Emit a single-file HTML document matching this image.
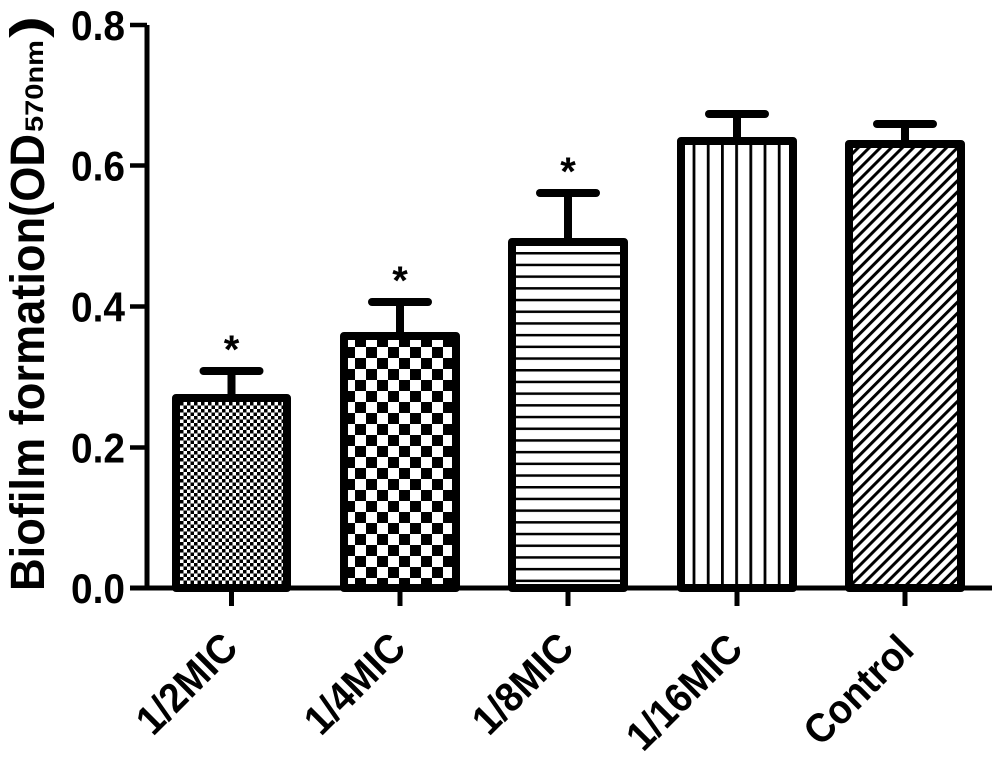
<!DOCTYPE html>
<html>
<head>
<meta charset="utf-8">
<style>
html,body{margin:0;padding:0;background:#fff;}
svg{display:block;}
text{font-family:"Liberation Sans",Arial,sans-serif;font-weight:bold;fill:#000;}
</style>
</head>
<body>
<svg width="1000" height="759" viewBox="0 0 1000 759" xmlns="http://www.w3.org/2000/svg">
<defs>
  <pattern id="p1" patternUnits="userSpaceOnUse" x="180" y="402" width="7" height="7">
    <rect width="7" height="7" fill="#fff"/>
    <rect width="3.5" height="3.5" fill="#000"/>
    <rect x="3.5" y="3.5" width="3.5" height="3.5" fill="#000"/>
  </pattern>
  <pattern id="p2" patternUnits="userSpaceOnUse" x="344" y="336" width="22" height="22">
    <rect width="22" height="22" fill="#fff"/>
    <rect x="11" y="0" width="11" height="11" fill="#000"/>
    <rect x="0" y="11" width="11" height="11" fill="#000"/>
  </pattern>
  <pattern id="p3" patternUnits="userSpaceOnUse" x="0" y="252" width="10" height="11.7">
    <rect width="10" height="11.7" fill="#fff"/>
    <rect y="0" width="10" height="2.5" fill="#000"/>
  </pattern>
  <pattern id="p4" patternUnits="userSpaceOnUse" x="692.6" y="0" width="14.2" height="10">
    <rect width="14.2" height="10" fill="#fff"/>
    <rect x="0" width="2.8" height="10" fill="#000"/>
  </pattern>
  <pattern id="p5" patternUnits="userSpaceOnUse" x="0" y="0" width="7.8" height="10" patternTransform="rotate(45)">
    <rect width="7.8" height="10" fill="#fff"/>
    <rect x="0" width="3" height="10" fill="#000"/>
  </pattern>
</defs>

<!-- Y axis -->
<line x1="147" y1="25" x2="147" y2="590" stroke="#000" stroke-width="5"/>
<g stroke="#000" stroke-width="4.5">
  <line x1="130" y1="25" x2="147" y2="25"/>
  <line x1="130" y1="165.5" x2="147" y2="165.5"/>
  <line x1="130" y1="306.5" x2="147" y2="306.5"/>
  <line x1="130" y1="447.5" x2="147" y2="447.5"/>
  <line x1="130" y1="588" x2="147" y2="588"/>
</g>
<g font-size="42" text-anchor="end">
  <text x="125" y="40" textLength="54" lengthAdjust="spacingAndGlyphs">0.8</text>
  <text x="125" y="180.5" textLength="54" lengthAdjust="spacingAndGlyphs">0.6</text>
  <text x="125" y="321.5" textLength="54" lengthAdjust="spacingAndGlyphs">0.4</text>
  <text x="125" y="462.5" textLength="54" lengthAdjust="spacingAndGlyphs">0.2</text>
  <text x="125" y="603" textLength="54" lengthAdjust="spacingAndGlyphs">0.0</text>
</g>

<!-- Y axis title -->
<g transform="translate(44,591) rotate(-90)">
  <text x="0" y="0" font-size="48" textLength="457" lengthAdjust="spacingAndGlyphs">Biofilm formation(OD</text>
  <text x="459" y="-1" font-size="25" textLength="92" lengthAdjust="spacingAndGlyphs">570nm</text>
  <text x="553" y="0" font-size="48" textLength="22" lengthAdjust="spacingAndGlyphs">)</text>
</g>

<!-- Bars -->
<g stroke="#000" stroke-width="8" stroke-linejoin="round">
  <rect x="176" y="398" width="111" height="190" fill="url(#p1)"/>
  <rect x="344" y="336" width="112" height="252" fill="url(#p2)"/>
  <rect x="512" y="242" width="112" height="346" fill="url(#p3)"/>
  <rect x="681" y="141" width="112" height="447" fill="url(#p4)"/>
  <rect x="849" y="144" width="112" height="444" fill="url(#p5)"/>
</g>

<!-- Error bars -->
<g stroke="#000" stroke-width="8" stroke-linecap="round">
  <line x1="231.5" y1="371" x2="231.5" y2="396"/>
  <line x1="203.5" y1="371" x2="259.5" y2="371"/>
  <line x1="400" y1="302" x2="400" y2="334"/>
  <line x1="372" y1="302" x2="428" y2="302"/>
  <line x1="568" y1="193" x2="568" y2="240"/>
  <line x1="540" y1="193" x2="596" y2="193"/>
  <line x1="737" y1="114" x2="737" y2="139"/>
  <line x1="709" y1="114" x2="765" y2="114"/>
  <line x1="905" y1="124" x2="905" y2="142"/>
  <line x1="877" y1="124" x2="933" y2="124"/>
</g>

<!-- Stars -->
<g font-size="40" text-anchor="middle">
  <text x="231.5" y="363">*</text>
  <text x="400" y="294">*</text>
  <text x="568" y="185">*</text>
</g>

<!-- X axis -->
<line x1="130" y1="588" x2="992" y2="588" stroke="#000" stroke-width="5"/>
<g stroke="#000" stroke-width="5">
  <line x1="231.5" y1="588" x2="231.5" y2="606"/>
  <line x1="400" y1="588" x2="400" y2="606"/>
  <line x1="568" y1="588" x2="568" y2="606"/>
  <line x1="737" y1="588" x2="737" y2="606"/>
  <line x1="905" y1="588" x2="905" y2="606"/>
</g>

<!-- X labels -->
<g font-size="41" text-anchor="end">
  <text transform="translate(240,650) rotate(-45)" textLength="123" lengthAdjust="spacingAndGlyphs">1/2MIC</text>
  <text transform="translate(408,650) rotate(-45)" textLength="123" lengthAdjust="spacingAndGlyphs">1/4MIC</text>
  <text transform="translate(576,650) rotate(-45)" textLength="123" lengthAdjust="spacingAndGlyphs">1/8MIC</text>
  <text transform="translate(745,651) rotate(-45)" textLength="144" lengthAdjust="spacingAndGlyphs">1/16MIC</text>
  <text transform="translate(916,652) rotate(-45)" textLength="135" lengthAdjust="spacingAndGlyphs">Control</text>
</g>
</svg>
</body>
</html>
